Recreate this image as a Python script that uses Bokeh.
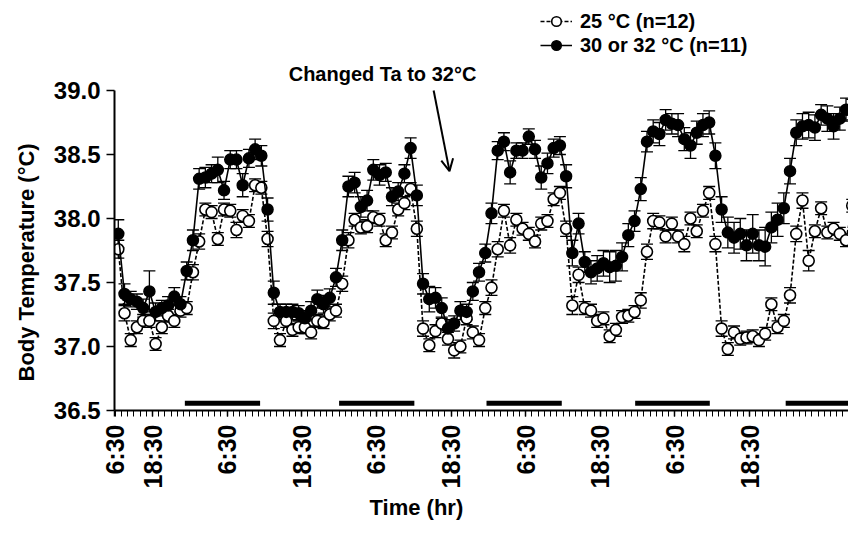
import numpy as np
from math import pi
from bokeh.plotting import figure
from bokeh.models import (ColumnDataSource, Whisker, TeeHead, FixedTicker, Arrow, Title, Label,
                          OpenHead, Legend, LegendItem, Range1d, PrintfTickFormatter)
from bokeh.embed import file_html
from bokeh.resources import INLINE

# ---------------- data ----------------
# hourly means, first sample ~6.5 h after the first 6:30 mark
temp_25 = [37.76, 37.26, 37.05, 37.15, 37.20, 37.20, 37.02, 37.15, 37.24, 37.20, 37.28, 37.30,
           37.58, 37.82, 38.07, 38.05, 37.84, 38.07, 38.06, 37.91, 38.02, 37.98, 38.26, 38.24,
           37.84, 37.20, 37.05, 37.20, 37.13, 37.15, 37.15, 37.11, 37.20, 37.19, 37.25, 37.28,
           37.49, 37.83, 37.99, 37.93, 37.94, 38.01, 37.99, 37.83, 37.89, 38.07, 38.12, 38.23,
           37.92, 37.14, 37.01, 37.12, 37.18, 37.06, 36.97, 37.00, 37.22, 37.11, 37.05, 37.30,
           37.46, 37.76, 38.06, 37.79, 37.99, 37.92, 37.88, 37.82, 37.96, 37.98, 38.15, 38.20,
           37.92, 37.32, 37.56, 37.30, 37.28, 37.20, 37.22, 37.08, 37.13, 37.23, 37.24, 37.27,
           37.36, 37.74, 37.98, 37.97, 37.86, 37.96, 37.86, 37.80, 38.00, 37.90, 38.06, 38.20,
           37.80, 37.14, 36.98, 37.11, 37.06, 37.07, 37.08, 37.05, 37.10, 37.33, 37.15, 37.20,
           37.40, 37.88, 38.14, 37.67, 37.90, 38.08, 37.89, 37.92, 37.88, 37.83, 38.10]
sem_25 = [0.07, 0.06, 0.05, 0.05, 0.05, 0.05, 0.05, 0.05, 0.05, 0.05, 0.05, 0.05,
          0.06, 0.06, 0.05, 0.05, 0.05, 0.05, 0.05, 0.06, 0.05, 0.05, 0.05, 0.05,
          0.06, 0.06, 0.05, 0.05, 0.05, 0.05, 0.05, 0.05, 0.05, 0.05, 0.05, 0.05,
          0.06, 0.06, 0.05, 0.05, 0.05, 0.05, 0.05, 0.05, 0.05, 0.05, 0.05, 0.05,
          0.06, 0.06, 0.05, 0.05, 0.05, 0.05, 0.06, 0.05, 0.05, 0.05, 0.05, 0.05,
          0.06, 0.06, 0.05, 0.06, 0.05, 0.05, 0.05, 0.05, 0.05, 0.05, 0.05, 0.05,
          0.06, 0.07, 0.06, 0.05, 0.05, 0.05, 0.05, 0.05, 0.05, 0.05, 0.05, 0.05,
          0.06, 0.06, 0.06, 0.05, 0.05, 0.05, 0.05, 0.06, 0.05, 0.05, 0.05, 0.05,
          0.06, 0.06, 0.05, 0.05, 0.05, 0.05, 0.05, 0.05, 0.05, 0.05, 0.05, 0.05,
          0.06, 0.06, 0.06, 0.08, 0.05, 0.05, 0.05, 0.05, 0.05, 0.05, 0.05]

temp_32 = [37.88, 37.41, 37.37, 37.35, 37.30, 37.43, 37.27, 37.30, 37.32, 37.39, 37.33, 37.59,
           37.83, 38.31, 38.32, 38.35, 38.38, 38.22, 38.46, 38.46, 38.26, 38.47, 38.54, 38.49,
           38.07, 37.42, 37.27, 37.27, 37.27, 37.26, 37.22, 37.28, 37.37, 37.33, 37.38, 37.54,
           37.83, 38.25, 38.28, 38.09, 38.14, 38.38, 38.34, 38.36, 38.17, 38.21, 38.35, 38.55,
           38.18, 37.49, 37.37, 37.38, 37.30, 37.14, 37.18, 37.28, 37.27, 37.43, 37.58, 37.73,
           38.04, 38.53, 38.60, 38.36, 38.53, 38.53, 38.64, 38.54, 38.32, 38.43, 38.55, 38.57,
           38.33, 37.73, 37.96, 37.66, 37.58, 37.61, 37.65, 37.62, 37.63, 37.70, 37.87, 37.98,
           38.23, 38.60, 38.68, 38.66, 38.77, 38.74, 38.73, 38.62, 38.57, 38.67, 38.73, 38.75,
           38.49, 38.07, 37.89, 37.85, 37.88, 37.79, 37.88, 37.79, 37.78, 37.93, 37.99, 38.08,
           38.37, 38.67, 38.72, 38.73, 38.71, 38.81, 38.78, 38.72, 38.78, 38.85, 38.85]
sem_32 = [0.11, 0.08, 0.06, 0.06, 0.07, 0.16, 0.07, 0.06, 0.07, 0.07, 0.06, 0.07,
          0.08, 0.08, 0.08, 0.07, 0.10, 0.07, 0.07, 0.07, 0.09, 0.07, 0.08, 0.08,
          0.09, 0.09, 0.06, 0.06, 0.06, 0.06, 0.06, 0.07, 0.07, 0.07, 0.07, 0.07,
          0.08, 0.08, 0.08, 0.08, 0.08, 0.08, 0.08, 0.07, 0.07, 0.07, 0.07, 0.08,
          0.08, 0.08, 0.10, 0.08, 0.08, 0.07, 0.06, 0.07, 0.06, 0.07, 0.07, 0.07,
          0.08, 0.07, 0.07, 0.09, 0.06, 0.06, 0.06, 0.07, 0.09, 0.08, 0.07, 0.07,
          0.09, 0.10, 0.08, 0.08, 0.09, 0.10, 0.10, 0.12, 0.12, 0.11, 0.09, 0.08,
          0.09, 0.08, 0.09, 0.09, 0.08, 0.08, 0.09, 0.09, 0.10, 0.09, 0.09, 0.09,
          0.10, 0.10, 0.12, 0.12, 0.12, 0.12, 0.15, 0.12, 0.15, 0.12, 0.13, 0.12,
          0.10, 0.10, 0.10, 0.10, 0.10, 0.08, 0.10, 0.10, 0.09, 0.09, 0.08]

first_hour = 6.5
hours = first_hour + np.arange(len(temp_32))

dark_start = [17.2, 42.0, 65.7, 89.6, 113.8]
dark_end = [29.3, 54.1, 77.8, 101.6, 127.0]
dark_level = 36.556

tick_hours = [5.9, 12, 24, 36, 48, 60, 72, 84, 96, 108]
tick_labels = ["6:30", "18:30", "6:30", "18:30", "6:30", "18:30", "6:30", "18:30", "6:30", "18:30"]
y_ticks = [36.5, 37.0, 37.5, 38.0, 38.5, 39.0]

FONT = "Liberation Sans"

# ---------------- figure ----------------
# the frame reaches up to the top of the figure so that the legend and the
# annotation (drawn above the 39.0 line) sit inside it; the y axis stops at 39.0
p = figure(width=848, height=536, x_range=Range1d(5.89, 123.9), y_range=Range1d(36.5, 39.703),
           output_backend="svg", toolbar_location=None, title=None,
           min_border_left=114, min_border_top=0, min_border_right=0, min_border_bottom=126)
p.xgrid.visible = False
p.ygrid.visible = False
p.outline_line_color = None
p.background_fill_color = "white"
p.border_fill_color = "white"

src25 = ColumnDataSource(dict(t=hours, v=temp_25,
                              lo=np.array(temp_25) - np.array(sem_25),
                              up=np.array(temp_25) + np.array(sem_25)))
src32 = ColumnDataSource(dict(t=hours, v=temp_32,
                              lo=np.array(temp_32) - np.array(sem_32),
                              up=np.array(temp_32) + np.array(sem_32)))

for src in (src25, src32):
    w = Whisker(base="t", upper="up", lower="lo", source=src, line_color="black", line_width=1.3,
                upper_head=TeeHead(size=12, line_width=1.3, line_color="black"),
                lower_head=TeeHead(size=12, line_width=1.3, line_color="black"))
    p.add_layout(w)

# dark-phase bars
p.segment(x0=dark_start, x1=dark_end, y0=[dark_level] * len(dark_start), y1=[dark_level] * len(dark_start),
          line_color="black", line_width=5, line_cap="butt")

l25 = p.line("t", "v", source=src25, line_color="black", line_width=1.6, line_dash="4 2")
s25 = p.scatter("t", "v", source=src25, marker="circle", size=11, fill_color="white",
                line_color="black", line_width=1.6)
l32 = p.line("t", "v", source=src32, line_color="black", line_width=1.6)
s32 = p.scatter("t", "v", source=src32, marker="circle", size=11, fill_color="black",
                line_color="black", line_width=1.5)

# axes
p.xaxis.ticker = FixedTicker(ticks=tick_hours, minor_ticks=list(range(6, 124)))
p.xaxis.major_label_overrides = {h: lab for h, lab in zip(tick_hours, tick_labels)}
p.xaxis.major_label_orientation = pi / 2
p.yaxis.ticker = FixedTicker(ticks=y_ticks, minor_ticks=[])
p.yaxis.formatter = PrintfTickFormatter(format="%.1f")
p.yaxis.bounds = (36.5, 39.0)

for ax in (p.xaxis[0], p.yaxis[0]):
    ax.axis_line_width = 2
    ax.axis_line_color = "black"
    ax.major_tick_in = 0
    ax.minor_tick_in = 0
    ax.major_tick_line_width = 1.5
    ax.minor_tick_line_width = 1
    ax.major_label_text_font = FONT
    ax.major_label_text_font_style = "bold"
    ax.major_label_text_color = "black"

p.xaxis.major_label_text_font_size = "25px"
p.yaxis.major_label_text_font_size = "24px"
p.xaxis.major_tick_out = 6
p.xaxis.minor_tick_out = 6
p.xaxis.major_label_standoff = 8

p.yaxis.major_tick_out = 8
p.yaxis.minor_tick_out = 0
p.yaxis.major_label_standoff = 6

# axis titles
p.add_layout(Title(text="Body Temperature (°C)", align="left", offset=29, standoff=20,
                   vertical_align="top", text_font=FONT, text_font_style="bold",
                   text_font_size="22px", text_color="black"), "left")
p.add_layout(Title(text="Time (hr)", align="left", offset=255, standoff=6, vertical_align="top",
                   text_font=FONT, text_font_style="bold", text_font_size="22px",
                   text_color="black"), "below")

# annotation + arrow
p.add_layout(Label(x=48.98, y=39.125, text="Changed Ta to 32°C", text_align="center",
                   text_baseline="middle", text_font=FONT, text_font_style="bold",
                   text_font_size="20px", text_color="black"))
p.add_layout(Arrow(end=OpenHead(size=12, line_width=2, line_color="black"),
                   x_start=57.2, y_start=39.0, x_end=59.75, y_end=38.37,
                   line_width=2, line_color="black"))

# legend (top right, above the 39.0 line)
legend = Legend(items=[LegendItem(label="25 °C (n=12)", renderers=[l25, s25]),
                       LegendItem(label="30 or 32 °C (n=11)", renderers=[l32, s32])],
                location=(426, 353), padding=0, margin=0, spacing=0,
                glyph_width=32, glyph_height=24, label_height=24, label_standoff=8,
                border_line_color=None, background_fill_alpha=0,
                label_text_font=FONT, label_text_font_style="bold",
                label_text_font_size="20px", label_text_color="black")
p.add_layout(legend)

open("out.html", "w").write(file_html(p, INLINE))
